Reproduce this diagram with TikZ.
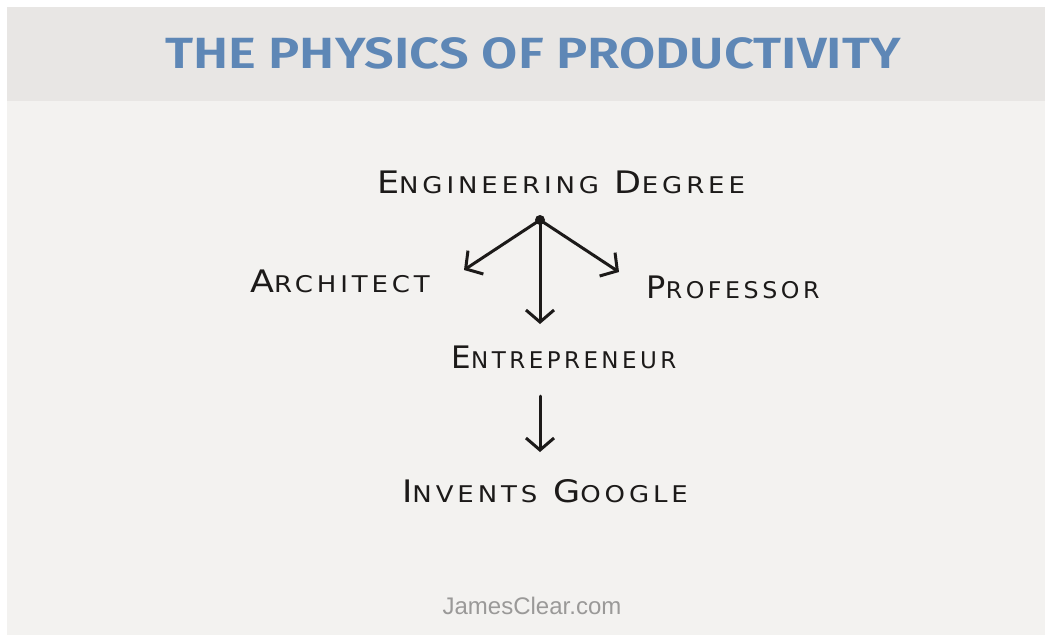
\documentclass[tikz,border=0pt]{standalone}
\usepackage{fontspec}
\setmainfont{Liberation Sans}
\newfontfamily\titlefont{Fira Sans SemiBold}
\newfontfamily\hand[LetterSpace=15]{DejaVu Sans}
\usetikzlibrary{arrows.meta}
\definecolor{banner}{HTML}{E8E6E4}
\definecolor{paper}{HTML}{F3F2F0}
\definecolor{titleblue}{HTML}{5E87B6}
\definecolor{ink}{HTML}{1C1A19}
\definecolor{credit}{HTML}{9A9998}
% hand-lettered caps: a tall first letter followed by smaller capitals
\newcommand{\hc}[2]{{\fontsize{31}{31}\selectfont #1}{\fontsize{23}{23}\selectfont #2}}
\newcommand{\gap}{\hspace{14pt}}
\begin{document}
\begin{tikzpicture}[x=1pt,y=-1pt,
  label/.style={inner sep=0pt,text=ink,font=\hand},
  flow/.style={draw=ink,line width=3pt,line cap=round,
    -{Straight Barb[length=12pt,width=28pt,line width=3pt]}}]
\useasboundingbox (0,0) rectangle (1045,635);
\fill[white] (0,0) rectangle (1045,635);
\fill[paper] (7,7) rectangle (1045,635);
\fill[banner] (7,7) rectangle (1045,101);
\node[inner sep=0pt,text=titleblue,font=\titlefont\fontsize{52}{52}\selectfont] (title) at (533,53) {\scalebox{1.01}[0.84]{THE PHYSICS OF PRODUCTIVITY}};
\node[label] (deg) at (561,182) {\scalebox{1.13}[1]{\hc{E}{NGINEERING}\gap\hc{D}{EGREE}}};
\node[label] (arch) at (340,281) {\scalebox{1.13}[1]{\hc{A}{RCHITECT}}};
\node[label] (prof) at (733,287) {\scalebox{1.03}[1]{\hc{P}{ROFESSOR}}};
\node[label] (ent) at (564,357) {\scalebox{1.0}[1]{\hc{E}{NTREPRENEUR}}};
\node[label] (goog) at (545,491) {\scalebox{1.13}[1]{\hc{I}{NVENTS}\gap\hc{G}{OOGLE}}};
\coordinate (hub) at (540,220);
\fill[ink] (hub) circle (5pt);
\coordinate (archend) at (464,270);
\coordinate (profend) at (619,272);
\coordinate (entend) at (540,324);
\draw[flow] (hub) -- (archend);
\draw[flow] (hub) -- (profend);
\draw[flow] (hub) -- (entend);
\coordinate (ent2) at (540,396);
\coordinate (googend) at (540,452);
\draw[flow] (ent2) -- (googend);
\node[inner sep=0pt,text=credit,font=\fontsize{24}{24}\selectfont] (site) at (532,606) {JamesClear.com};
\end{tikzpicture}
\end{document}
